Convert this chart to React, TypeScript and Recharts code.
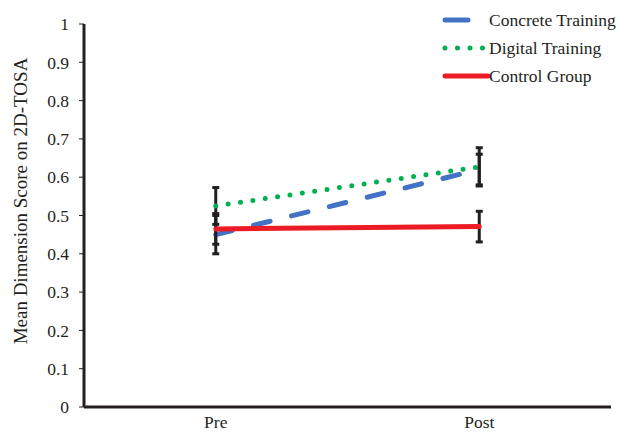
import { LineChart, Line, XAxis, YAxis, ErrorBar, Legend, Label } from "recharts"

const categories = ["Pre", "Post"]
const concrete = [0.45, 0.62]
const concreteErr = [0.05, 0.04]
const digital = [0.525, 0.627]
const digitalErr = [0.048, 0.05]
const control = [0.465, 0.471]
const controlErr = [0.04, 0.04]
const yTicks = [0, 0.1, 0.2, 0.3, 0.4, 0.5, 0.6, 0.7, 0.8, 0.9, 1]

const data = categories.map((c, i) => ({
    phase: c,
    concrete: concrete[i],
    concreteErr: concreteErr[i],
    digital: digital[i],
    digitalErr: digitalErr[i],
    control: control[i],
    controlErr: controlErr[i]
}))

const FONT = "'Liberation Serif', 'Times New Roman', serif"
const INK = "#231F20"
const textStyle = { fontFamily: FONT, fontSize: 17.5, fill: INK }

// legend order and swatch style, as in the original figure
const legendRows = [
    { key: "concrete", len: 23, dash: undefined as string | undefined },
    { key: "digital", len: 42, dash: "0 12.5" },
    { key: "control", len: 43, dash: undefined }
]

function LegendBox(props: any) {
    const items: any[] = props.payload || []
    return (
        <svg width={191} height={90} style={{ display: "block", overflow: "visible" }}>
            {legendRows.map((row, i) => {
                const item = items.find((p) => p.dataKey === row.key)
                if (!item) return null
                const y = 20 + i * 28
                return (
                    <g key={row.key}>
                        <line
                            x1={15}
                            x2={15 + row.len}
                            y1={y}
                            y2={y}
                            stroke={item.color}
                            strokeWidth={5}
                            strokeLinecap="round"
                            strokeDasharray={row.dash}
                        />
                        <text x={59} y={y} dy="0.35em" style={textStyle}>
                            {item.value}
                        </text>
                    </g>
                )
            })}
        </svg>
    )
}

export default function App() {
    return (
        <div style={{ position: "absolute", left: 0, top: 0, background: "#fff" }}>
            <LineChart width={621} height={437} data={data} margin={{ top: 24, right: 10, bottom: 0, left: 0 }}>
                <XAxis
                    dataKey="phase"
                    scale="band"
                    height={30}
                    axisLine={{ stroke: INK, strokeWidth: 3 }}
                    tickLine={false}
                    tickSize={6}
                    tickMargin={3}
                    tick={{ style: textStyle }}
                />
                <YAxis
                    width={84}
                    domain={[0, 1]}
                    ticks={yTicks}
                    interval={0}
                    axisLine={{ stroke: INK, strokeWidth: 3 }}
                    tickLine={{ stroke: INK, strokeWidth: 1 }}
                    tickSize={5}
                    tickMargin={10}
                    tick={{ style: textStyle }}
                >
                    <Label
                        content={() => (
                            <text
                                x={20}
                                y={201}
                                transform="rotate(-90, 20, 201)"
                                textAnchor="middle"
                                dominantBaseline="central"
                                style={{ ...textStyle, fontSize: 19 }}
                            >
                                Mean Dimension Score on 2D-TOSA
                            </text>
                        )}
                    />
                </YAxis>

                <Legend
                    layout="vertical"
                    align="center"
                    verticalAlign="middle"
                    content={<LegendBox />}
                    wrapperStyle={{ top: 0, left: 430, width: 191, height: 90 }}
                />

                {/* green dotted first, red solid drawn last on top */}
                <Line
                    dataKey="digital"
                    name="Digital Training"
                    stroke="#00B050"
                    strokeWidth={5}
                    strokeLinecap="round"
                    strokeDasharray="0 12.5"
                    dot={false}
                    activeDot={false}
                    isAnimationActive={false}
                >
                    <ErrorBar dataKey="digitalErr" direction="y" width={3.5} stroke={INK} strokeWidth={3} />
                </Line>
                <Line
                    dataKey="concrete"
                    name="Concrete Training"
                    stroke="#4472C4"
                    strokeWidth={5}
                    strokeLinecap="round"
                    strokeDasharray="17 22"
                    dot={false}
                    activeDot={false}
                    isAnimationActive={false}
                >
                    <ErrorBar dataKey="concreteErr" direction="y" width={3.5} stroke={INK} strokeWidth={3} />
                </Line>
                <Line
                    dataKey="control"
                    name="Control Group"
                    stroke="#ED1C24"
                    strokeWidth={5}
                    strokeLinecap="round"
                    dot={false}
                    activeDot={false}
                    isAnimationActive={false}
                >
                    <ErrorBar dataKey="controlErr" direction="y" width={3.5} stroke={INK} strokeWidth={3} />
                </Line>
            </LineChart>
        </div>
    )
}
